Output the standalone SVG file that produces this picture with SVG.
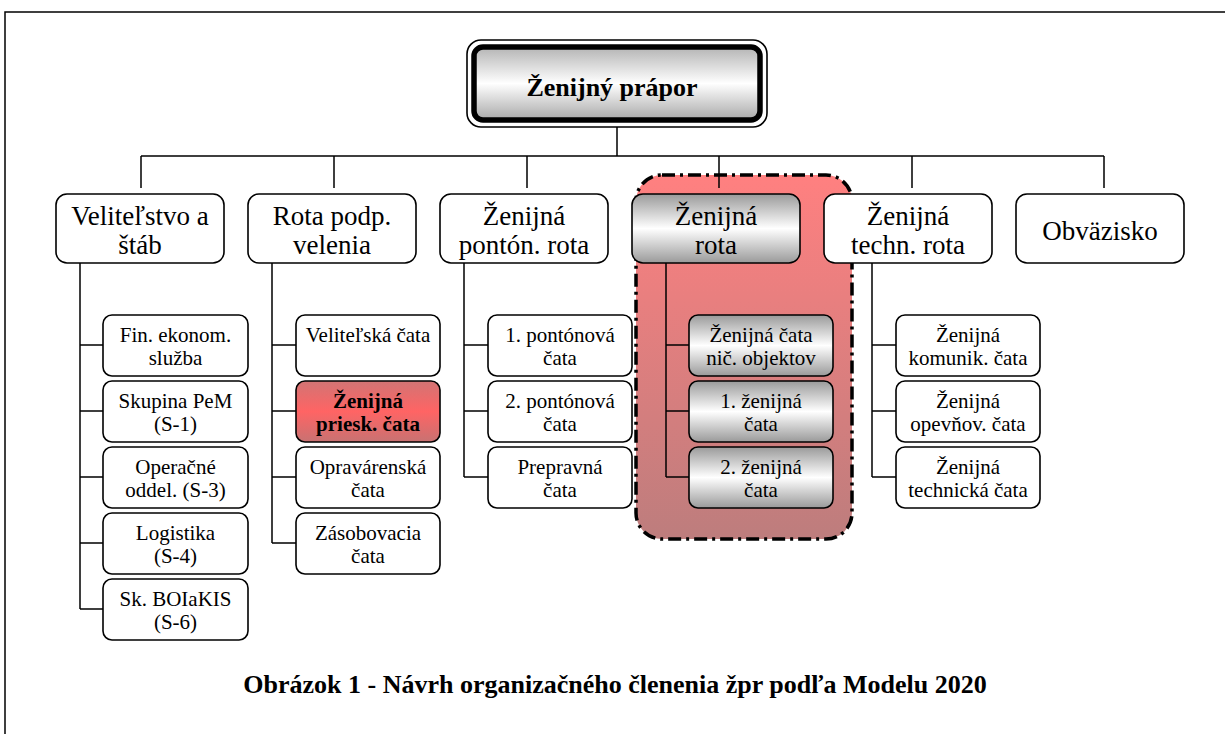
<svg xmlns="http://www.w3.org/2000/svg" width="1225" height="734" viewBox="0 0 1225 734">
<defs>
<linearGradient id="gTop" x1="0" y1="0" x2="0" y2="1"><stop offset="0" stop-color="#b4b4b4"/><stop offset="0.5" stop-color="#ffffff"/><stop offset="1" stop-color="#a8a8a8"/></linearGradient>
<linearGradient id="gGray" x1="0" y1="0" x2="0" y2="1"><stop offset="0" stop-color="#9a9a9a"/><stop offset="0.5" stop-color="#ffffff"/><stop offset="1" stop-color="#9a9a9a"/></linearGradient>
<linearGradient id="gRed" x1="0" y1="0" x2="0" y2="1"><stop offset="0" stop-color="#d27474"/><stop offset="0.5" stop-color="#ff6464"/><stop offset="1" stop-color="#c87272"/></linearGradient>
<linearGradient id="gCont" x1="0" y1="0" x2="0" y2="1"><stop offset="0" stop-color="#ff8080"/><stop offset="1" stop-color="#bd7d7d"/></linearGradient>
</defs>
<style>
text{font-family:"Liberation Serif","Times New Roman",serif;fill:#000;text-anchor:middle}
.l2{font-size:27px}
.c{font-size:21px}
.b{stroke:#000;stroke-width:1.6;fill:#fff}
.g{fill:url(#gGray)}
.ln{stroke:#000;stroke-width:1.5;fill:none}
</style>
<rect width="1225" height="734" fill="#fff"/>
<path class="ln" d="M5 734V12H1225"/>

<g id="container">
<rect x="636" y="175" width="216" height="364" rx="26" fill="url(#gCont)" stroke="#000" stroke-width="3.5" stroke-dasharray="13 5 3 5"/>
</g>

<g id="connectors">
<path class="ln" d="M617 126V156M141 156H1104M141 156V188M334 156V188M527 156V188M719 156V188M912 156V188M1104 156V188"/>
<path class="ln" d="M80 263V609M80 345H103M80 411H103M80 477H103M80 543H103M80 609H103"/>
<path class="ln" d="M272 263V543M272 345H296M272 411H296M272 477H296M272 543H296"/>
<path class="ln" d="M464 263V477M464 345H488M464 411H488M464 477H488"/>
<path class="ln" d="M666 263V477M666 345H689M666 411H689M666 477H689"/>
<path class="ln" d="M872 263V477M872 345H896M872 411H896M872 477H896"/>
</g>

<g id="n-prapor">
<rect x="467" y="40" width="300" height="87" rx="14" fill="#fff" stroke="#000" stroke-width="1.6"/>
<rect x="474" y="47" width="286" height="73" rx="9" fill="url(#gTop)" stroke="#000" stroke-width="5.5"/>
<text x="612" y="96" style="font-size:26px;font-weight:bold">Ženijný prápor</text>
</g>

<g id="n-velitelstvo"><rect class="b" x="56" y="194" width="168" height="69" rx="11"/><text class="l2" x="140" y="225">Veliteľstvo a</text><text class="l2" x="140" y="254">štáb</text></g>
<g id="n-rota-podp"><rect class="b" x="248" y="194" width="168" height="69" rx="11"/><text class="l2" x="332" y="225">Rota podp.</text><text class="l2" x="332" y="254">velenia</text></g>
<g id="n-ponton"><rect class="b" x="440" y="194" width="168" height="69" rx="11"/><text class="l2" x="524" y="225">Ženijná</text><text class="l2" x="524" y="254">pontón. rota</text></g>
<g id="n-zen-rota"><rect class="b g" x="632" y="194" width="168" height="69" rx="11"/><text class="l2" x="716" y="225">Ženijná</text><text class="l2" x="716" y="254">rota</text></g>
<g id="n-techn"><rect class="b" x="824" y="194" width="168" height="69" rx="11"/><text class="l2" x="908" y="225">Ženijná</text><text class="l2" x="908" y="254">techn. rota</text></g>
<g id="n-obvazisko"><rect class="b" x="1016" y="194" width="168" height="69" rx="11"/><text class="l2" x="1100" y="240">Obväzisko</text></g>

<g id="n-fin"><rect class="b" x="103" y="315" width="145" height="61" rx="9"/><text class="c" x="175.5" y="342">Fin. ekonom.</text><text class="c" x="175.5" y="365">služba</text></g>
<g id="n-pem"><rect class="b" x="103" y="381" width="145" height="61" rx="9"/><text class="c" x="175.5" y="408">Skupina PeM</text><text class="c" x="175.5" y="431">(S-1)</text></g>
<g id="n-oper"><rect class="b" x="103" y="447" width="145" height="61" rx="9"/><text class="c" x="175.5" y="474">Operačné</text><text class="c" x="175.5" y="497">oddel. (S-3)</text></g>
<g id="n-log"><rect class="b" x="103" y="513" width="145" height="61" rx="9"/><text class="c" x="175.5" y="540">Logistika</text><text class="c" x="175.5" y="563">(S-4)</text></g>
<g id="n-boi"><rect class="b" x="103" y="579" width="145" height="61" rx="9"/><text class="c" x="175.5" y="606">Sk. BOIaKIS</text><text class="c" x="175.5" y="629">(S-6)</text></g>

<g id="n-velit-cata"><rect class="b" x="296" y="315" width="144" height="61" rx="9"/><text class="c" x="368" y="342">Veliteľská čata</text></g>
<g id="n-priesk"><rect class="b" x="296" y="381" width="144" height="61" rx="9" style="fill:url(#gRed)"/><text class="c" x="368" y="408" font-weight="bold">Ženijná</text><text class="c" x="368" y="431" font-weight="bold">priesk. čata</text></g>
<g id="n-oprav"><rect class="b" x="296" y="447" width="144" height="61" rx="9"/><text class="c" x="368" y="474">Opravárenská</text><text class="c" x="368" y="497">čata</text></g>
<g id="n-zasob"><rect class="b" x="296" y="513" width="144" height="61" rx="9"/><text class="c" x="368" y="540">Zásobovacia</text><text class="c" x="368" y="563">čata</text></g>

<g id="n-pont1"><rect class="b" x="488" y="315" width="144" height="61" rx="9"/><text class="c" x="560" y="342">1. pontónová</text><text class="c" x="560" y="365">čata</text></g>
<g id="n-pont2"><rect class="b" x="488" y="381" width="144" height="61" rx="9"/><text class="c" x="560" y="408">2. pontónová</text><text class="c" x="560" y="431">čata</text></g>
<g id="n-preprav"><rect class="b" x="488" y="447" width="144" height="61" rx="9"/><text class="c" x="560" y="474">Prepravná</text><text class="c" x="560" y="497">čata</text></g>

<g id="n-nic"><rect class="b g" x="689" y="315" width="144" height="61" rx="9"/><text class="c" x="761" y="342">Ženijná čata</text><text class="c" x="761" y="365">nič. objektov</text></g>
<g id="n-zen1"><rect class="b g" x="689" y="381" width="144" height="61" rx="9"/><text class="c" x="761" y="408">1. ženijná</text><text class="c" x="761" y="431">čata</text></g>
<g id="n-zen2"><rect class="b g" x="689" y="447" width="144" height="61" rx="9"/><text class="c" x="761" y="474">2. ženijná</text><text class="c" x="761" y="497">čata</text></g>

<g id="n-komunik"><rect class="b" x="896" y="315" width="144" height="61" rx="9"/><text class="c" x="968" y="342">Ženijná</text><text class="c" x="968" y="365">komunik. čata</text></g>
<g id="n-opevn"><rect class="b" x="896" y="381" width="144" height="61" rx="9"/><text class="c" x="968" y="408">Ženijná</text><text class="c" x="968" y="431">opevňov. čata</text></g>
<g id="n-techcata"><rect class="b" x="896" y="447" width="144" height="61" rx="9"/><text class="c" x="968" y="474">Ženijná</text><text class="c" x="968" y="497">technická čata</text></g>

<text x="615" y="693" style="font-size:26px;font-weight:bold">Obrázok 1 - Návrh organizačného členenia žpr podľa Modelu 2020</text>
</svg>
